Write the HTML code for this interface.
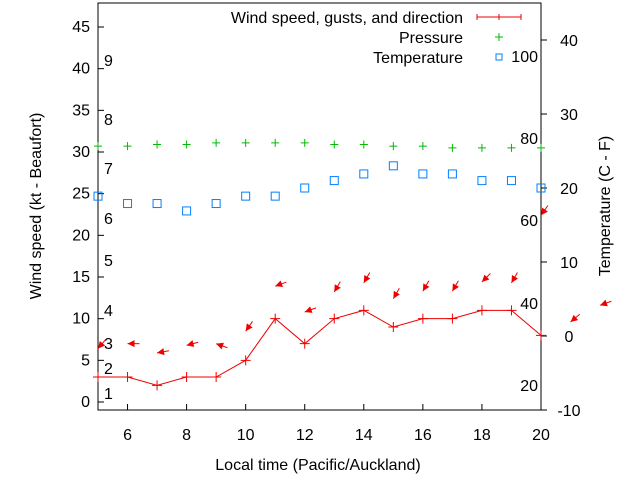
<!DOCTYPE html>
<html><head><meta charset="utf-8"><style>
body{margin:0;background:#fff}
svg{display:block;font-family:"Liberation Sans",sans-serif;font-size:16px}
</style></head><body>
<svg id="c" width="640" height="480">
<rect width="640" height="480" fill="#fff"/>
<g id="axes"></g><g id="marks"></g>
<text x="318" y="470" text-anchor="middle">Local time (Pacific/Auckland)</text>
<text transform="translate(41,206) rotate(-90)" text-anchor="middle">Wind speed (kt - Beaufort)</text>
<text transform="translate(610,206) rotate(-90)" text-anchor="middle">Temperature (C - F)</text>
<g>
<text x="463" y="23" text-anchor="end">Wind speed, gusts, and direction</text>
<path d="M477 17H521M477 14V20M499 14V20M521 14V20" stroke="#e00"/>
<text x="463" y="43" text-anchor="end">Pressure</text>
<path d="M495 37H503M499 33V41" stroke="#0b0"/>
<text x="463" y="63" text-anchor="end">Temperature</text>
<rect x="496" y="54" width="6" height="6" fill="none" stroke="#0080ff"/>
</g>
</svg>
<script>
const hours=[5,6,7,8,9,10,11,12,13,14,15,16,17,18,19,20];
const wind=[3,3,2,3,3,5,10,7,10,11,9,10,10,11,11,8];
const pressure=[30.7,30.7,30.9,30.9,31.1,31.1,31.1,31.1,30.9,30.9,30.7,30.7,30.5,30.5,30.5,30.5];
const temperature=[18.9,17.9,17.9,16.9,17.9,18.9,18.9,20,21,21.9,23,21.9,21.9,21,21,20];
const gustHours=[5,6,7,8,9,10,11,12,13,14,15,16,17,18,19,20,21,22];
const gusts=[6.4,7,5.9,6.8,7,8.5,13.9,10.8,13.2,14.3,12.4,13.3,13.3,14.4,14.3,22.4,9.6,11.6];
const gustDir=[50,0,10,15,-20,55,20,20,60,60,60,60,60,45,60,55,40,20];
const yTicks=[0,5,10,15,20,25,30,35,40,45];
const y2Ticks=[-10,0,10,20,30,40];
const xTicks=[6,8,10,12,14,16,18,20];
const beaufort=[[1,393],[2,368],[3,343],[4,310],[5,260],[6,218],[7,168],[8,119],[9,60]];
const fahr=[[20,385],[40,303],[60,220],[80,138],[100,56]];
const L=98,R=541,T=3,B=410;
const X=v=>L+(v-5)*(R-L)/15;
const Y=v=>402-v*375/45;
const Y2=v=>336-v*7.4;
const NS='http://www.w3.org/2000/svg';
function mk(p,tag,a){const e=document.createElementNS(NS,tag);for(const k in a)e.setAttribute(k,a[k]);p.appendChild(e);return e;}
const ax=document.getElementById('axes'),mk2=document.getElementById('marks');
const frame=mk(ax,'rect',{x:L,y:T,width:R-L,height:B-T,fill:'none',stroke:'#000'});


yTicks.forEach(v=>{const y=Y(v);
 const t=mk(ax,'path',{d:`M${L} ${y}h6`,stroke:'#000'});
 
 
 const tx=mk(ax,'text',{x:L-8,y:y+5,'text-anchor':'end'});tx.textContent=v;
 
 });
y2Ticks.forEach(v=>{const y=Y2(v);
 const t=mk(ax,'path',{d:`M${R} ${y}h6`,stroke:'#000'});
 
 
 const tx=mk(ax,'text',{x:R+28,y:y+6,'text-anchor':'middle'});tx.textContent=v;
 
 });
xTicks.forEach(v=>{const x=X(v);
 const t=mk(ax,'path',{d:`M${x} ${B}v-6`,stroke:'#000'});
 
 
 const tx=mk(ax,'text',{x:x,y:B+30,'text-anchor':'middle'});tx.textContent=v;
 
 });
beaufort.forEach(([v,y])=>{const tx=mk(ax,'text',{x:104,y:y+6});tx.textContent=v;
 
 });
fahr.forEach(([v,y])=>{const tx=mk(ax,'text',{x:538,y:y+6,'text-anchor':'end'});tx.textContent=v;
 
 });
const wl=mk(mk2,'polyline',{points:hours.map((h,i)=>X(h)+','+Y(wind[i])).join(' '),fill:'none',stroke:'#e00'});


hours.forEach((h,i)=>{const x=X(h),y=Y(wind[i]);
 const p=mk(mk2,'path',{d:`M${x-5} ${y}h10M${x} ${y-5}v10`,stroke:'#e00'});
 
 
 const q=mk(mk2,'path',{d:`M${x-4} ${Y(pressure[i])}h8M${x} ${Y(pressure[i])-4}v8`,stroke:'#0b0'});
 
 
 const r=mk(mk2,'rect',{x:x-4,y:Y2(temperature[i])-4,width:8,height:8,fill:'none',stroke:'#0080ff'});
 
 });
gustHours.forEach((h,i)=>{const x=X(h),y=Y(gusts[i]),a=gustDir[i]*Math.PI/180;
 const ux=Math.cos(a),uy=-Math.sin(a);
 const tx=x+12*ux,ty=y+12*uy;
 const px=-uy,py=ux;
 const g=mk(mk2,'g',{});
 
 
 mk(g,'line',{x1:tx,y1:ty,x2:x,y2:y,stroke:'#e00'});
 mk(g,'polygon',{points:`${x},${y} ${x+7*ux+3.5*px},${y+7*uy+3.5*py} ${x+7*ux-3.5*px},${y+7*uy-3.5*py}`,fill:'#e00'});});
</script>
</body></html>
